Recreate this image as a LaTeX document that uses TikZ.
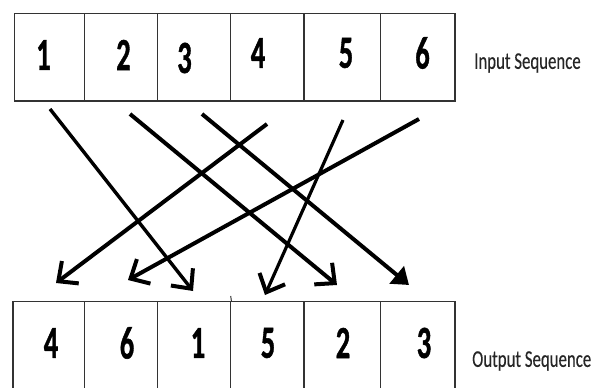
\documentclass[tikz,border=0pt]{standalone}
\usepackage{fontspec}
\setmainfont{Carlito}
\newfontfamily\digfont[FakeBold=1.2]{Carlito Bold}
\newfontfamily\labfont[FakeBold=0.3]{Carlito}
\usetikzlibrary{arrows.meta}
\begin{document}
\begin{tikzpicture}[x=1pt,y=-1pt,
  cellline/.style={draw=black!80,line width=1.4pt},
  digit/.style={inner sep=0pt,text=black},
  seqlabel/.style={inner sep=0pt,anchor=west,text=black!85},
  perm/.style={line width=4pt,-{Straight Barb[length=15pt,width=28pt,line width=4pt]}},
  permfill/.style={line width=4pt,-{Triangle[length=16pt,width=22pt]}}]
\useasboundingbox (0,0) rectangle (595,388);
\clip (0,0) rectangle (595,388);
\newcommand{\dg}[1]{\scalebox{0.62}[1]{\fontsize{46}{46}\digfont #1}}
\newcommand{\lb}[1]{\scalebox{0.7}[1]{\fontsize{24}{24}\labfont #1}}
% top row cells
\node[cellline,minimum width=70pt,minimum height=87.5pt,inner sep=0pt] (t1) at (49.5,57.25) {};
\node[cellline,minimum width=73.1pt,minimum height=87.5pt,inner sep=0pt] (t2) at (121.05,57.25) {};
\node[cellline,minimum width=73.1pt,minimum height=87.5pt,inner sep=0pt] (t3) at (194.15,57.25) {};
\node[cellline,minimum width=73.1pt,minimum height=87.5pt,inner sep=0pt] (t4) at (267.25,57.25) {};
\node[cellline,minimum width=76.9pt,minimum height=87.5pt,inner sep=0pt] (t5) at (342.25,57.25) {};
\node[cellline,minimum width=74.3pt,minimum height=87.5pt,inner sep=0pt] (t6) at (417.85,57.25) {};
% bottom row cells
\node[cellline,minimum width=71.5pt,minimum height=120pt,inner sep=0pt,anchor=north] (b1) at (48.75,301) {};
\node[cellline,minimum width=73.1pt,minimum height=120pt,inner sep=0pt,anchor=north] (b2) at (121.05,301) {};
\node[cellline,minimum width=73.1pt,minimum height=120pt,inner sep=0pt,anchor=north] (b3) at (194.15,301) {};
\node[cellline,minimum width=73.1pt,minimum height=120pt,inner sep=0pt,anchor=north] (b4) at (267.25,301) {};
\node[cellline,minimum width=76.9pt,minimum height=120pt,inner sep=0pt,anchor=north] (b5) at (342.25,301) {};
\node[cellline,minimum width=74.3pt,minimum height=120pt,inner sep=0pt,anchor=north] (b6) at (417.85,301) {};
\coordinate (tick) at (230.7,296);
\draw[draw=black!80,line width=1pt] (tick) -- (b3.north east);
% digits
\node[digit] (d1) at (43.5,55) {\dg{1}};
\node[digit] (d2) at (123.5,55) {\dg{2}};
\node[digit] (d3) at (184.5,58) {\dg{3}};
\node[digit] (d4) at (258,53) {\dg{4}};
\node[digit] (d5) at (346,53) {\dg{5}};
\node[digit] (d6) at (422.5,53) {\dg{6}};
\node[digit] (o4) at (51,343) {\dg{4}};
\node[digit] (o6) at (127,343) {\dg{6}};
\node[digit] (o1) at (198,343) {\dg{1}};
\node[digit] (o5) at (268,343) {\dg{5}};
\node[digit] (o2) at (343,343) {\dg{2}};
\node[digit] (o3) at (424,343) {\dg{3}};
% labels
\node[seqlabel] (inlab) at (474,63) {\lb{Input Sequence}};
\node[seqlabel] (outlab) at (472,361) {\lb{Output Sequence}};
% arrow end points
\coordinate (s1) at (50,109);  \coordinate (e1) at (193,291);
\coordinate (s2) at (130,114); \coordinate (e2) at (337,285);
\coordinate (s3) at (202,114); \coordinate (e3) at (409,285);
\coordinate (s4) at (267,124); \coordinate (e4) at (56,283);
\coordinate (s5) at (343,120); \coordinate (e5) at (265,295);
\coordinate (s6) at (419,119); \coordinate (e6) at (128,280);
\draw[perm,line width=3.4pt] (s1) -- (e1);
\draw[perm] (s2) -- (e2);
\draw[permfill] (s3) -- (e3);
\draw[perm] (s4) -- (e4);
\draw[perm,line width=3.2pt] (s5) -- (e5);
\draw[perm] (s6) -- (e6);
\end{tikzpicture}
\end{document}
